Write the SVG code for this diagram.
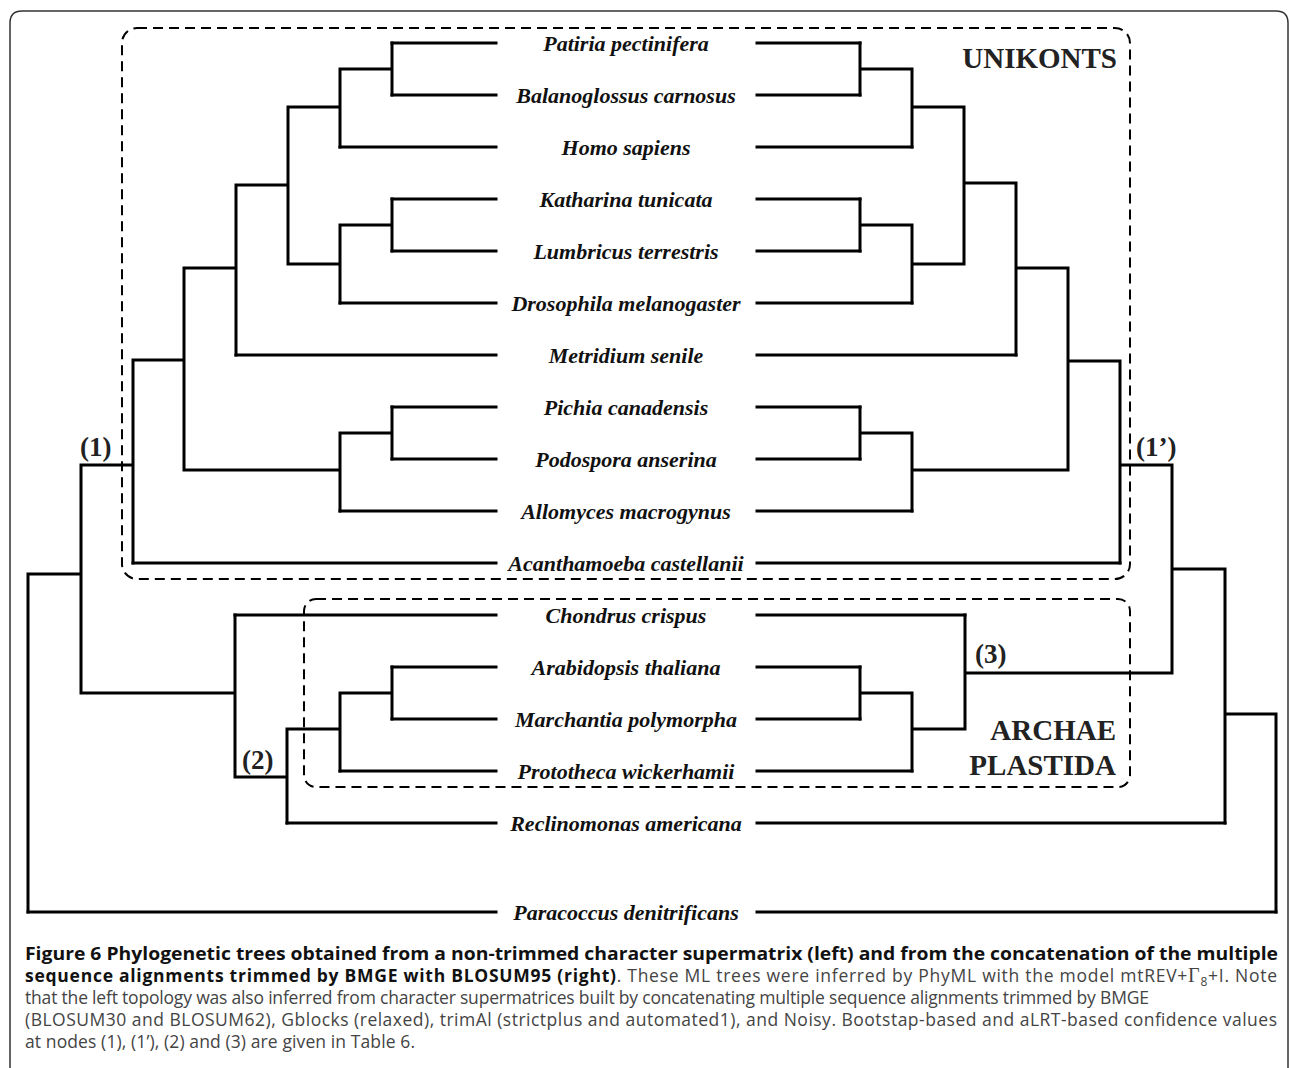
<svg xmlns="http://www.w3.org/2000/svg" width="1290" height="1068" viewBox="0 0 1290 1068">
<defs>
<style>
.frame{fill:none;stroke:#333;stroke-width:1.5}
.br{fill:none;stroke:#000;stroke-width:3;stroke-linecap:square}
.box{fill:none;stroke:#000;stroke-width:2;stroke-dasharray:10 6}
.tx{font-family:"Liberation Serif","Times New Roman",serif;font-weight:bold;font-style:italic;font-size:22px;fill:#111;text-anchor:middle}
.nl{font-family:"Liberation Serif","Times New Roman",serif;font-weight:bold;font-size:27px;fill:#222}
.cl{font-family:"Liberation Serif","Times New Roman",serif;font-weight:bold;font-size:29px;fill:#222;text-anchor:end}
.cap{font-family:"Open Sans","Noto Sans","Liberation Sans",sans-serif;font-size:17.5px;fill:#444}
.capb{font-weight:bold;fill:#111}
</style>
</defs>
<rect width="1290" height="1068" fill="#fff"/>
<path class="frame" d="M10,1068 V23 Q10,11 22,11 H1276 Q1288,11 1288,23 V1068"/>

<g id="unikonts">
<rect class="box" x="122" y="28" width="1008" height="551" rx="15"/>
<text class="cl" x="1117" y="68">UNIKONTS</text>
</g>
<g id="archaeplastida">
<rect class="box" x="304" y="599" width="826" height="188" rx="12"/>
<text class="cl" x="1116" y="740">ARCHAE</text>
<text class="cl" x="1116" y="775">PLASTIDA</text>
</g>

<g id="connectors">
<g id="left-tree">
<path class="br" d="M392,43H496 M392,95H496 M340,147H496 M392,199H496 M392,251H496 M340,303H496 M236,355H496 M392,407H496 M392,459H496 M340,511H496 M133,563H496 M235,615H496 M392,667H496 M392,719H496 M340,771H496 M287,823H496 M28,912H496"/>
<path class="br" d="M392,43V95 M340,69H392 M340,69V147 M288,107H340 M392,199V251 M340,225H392 M340,225V303 M288,264H340 M288,107V264 M236,185H288 M236,185V355 M184,268H236 M392,407V459 M340,433H392 M340,433V511 M184,470H340 M184,268V470 M133,360H184 M133,360V563 M81,465H133 M81,465V693 M28,574H81 M28,574V912 M81,693H235 M235,615V777 M235,777H287 M287,729V823 M287,729H340 M340,693V771 M340,693H392 M392,667V719"/>
</g>
<g id="right-tree">
<path class="br" d="M757,43H860 M757,95H860 M757,147H912 M757,199H860 M757,251H860 M757,303H912 M757,355H1016 M757,407H860 M757,459H860 M757,511H912 M757,563H1120 M757,615H965 M757,667H860 M757,719H860 M757,771H912 M757,823H1225 M757,912H1276"/>
<path class="br" d="M860,43V95 M860,69H912 M912,69V147 M912,107H964 M860,199V251 M860,225H912 M912,225V303 M912,264H964 M964,107V264 M964,183H1016 M1016,183V355 M1016,268H1068 M860,407V459 M860,433H912 M912,433V511 M912,470H1068 M1068,268V470 M1068,361H1120 M1120,361V563 M1120,465H1172 M1172,465V673 M965,673H1172 M1172,569H1225 M965,615V729 M912,729H965 M860,667V719 M860,693H912 M912,693V771 M1225,569V823 M1225,714H1276 M1276,714V912"/>
</g>
</g>

<g id="node-labels">
<text class="nl" x="80" y="456">(1)</text>
<text class="nl" x="1136" y="456">(1’)</text>
<text class="nl" x="242" y="769">(2)</text>
<text class="nl" x="975" y="663">(3)</text>
</g>

<g id="taxa">
<text id="t-patiria" class="tx" x="626" y="51">Patiria pectinifera</text>
<text id="t-balanoglossus" class="tx" x="626" y="103">Balanoglossus carnosus</text>
<text id="t-homo" class="tx" x="626" y="155">Homo sapiens</text>
<text id="t-katharina" class="tx" x="626" y="207">Katharina tunicata</text>
<text id="t-lumbricus" class="tx" x="626" y="259">Lumbricus terrestris</text>
<text id="t-drosophila" class="tx" x="626" y="311">Drosophila melanogaster</text>
<text id="t-metridium" class="tx" x="626" y="363">Metridium senile</text>
<text id="t-pichia" class="tx" x="626" y="415">Pichia canadensis</text>
<text id="t-podospora" class="tx" x="626" y="467">Podospora anserina</text>
<text id="t-allomyces" class="tx" x="626" y="519">Allomyces macrogynus</text>
<text id="t-acanthamoeba" class="tx" x="626" y="571">Acanthamoeba castellanii</text>
<text id="t-chondrus" class="tx" x="626" y="623">Chondrus crispus</text>
<text id="t-arabidopsis" class="tx" x="626" y="675">Arabidopsis thaliana</text>
<text id="t-marchantia" class="tx" x="626" y="727">Marchantia polymorpha</text>
<text id="t-prototheca" class="tx" x="626" y="779">Prototheca wickerhamii</text>
<text id="t-reclinomonas" class="tx" x="626" y="831">Reclinomonas americana</text>
<text id="t-paracoccus" class="tx" x="626" y="920">Paracoccus denitrificans</text>
</g>

<g id="caption">
<text class="cap capb" x="25" y="960" textLength="1253" lengthAdjust="spacingAndGlyphs">Figure 6 Phylogenetic trees obtained from a non-trimmed character supermatrix (left) and from the concatenation of the multiple</text>
<text class="cap" x="25" y="982" textLength="1252" lengthAdjust="spacing"><tspan class="capb">sequence alignments trimmed by BMGE with BLOSUM95 (right)</tspan>. These ML trees were inferred by PhyML with the model mtREV+<tspan font-family="Liberation Serif,serif" font-size="20">Γ</tspan><tspan font-size="12" dy="4">8</tspan><tspan dy="-4">+I. Note</tspan></text>
<text class="cap" x="25" y="1004" textLength="1124" lengthAdjust="spacing">that the left topology was also inferred from character supermatrices built by concatenating multiple sequence alignments trimmed by BMGE</text>
<text class="cap" x="25" y="1026" textLength="1252" lengthAdjust="spacing">(BLOSUM30 and BLOSUM62), Gblocks (relaxed), trimAl (strictplus and automated1), and Noisy. Bootstap-based and aLRT-based confidence values</text>
<text class="cap" x="25" y="1048" textLength="390" lengthAdjust="spacing">at nodes (1), (1’), (2) and (3) are given in Table 6.</text>
</g>
</svg>
